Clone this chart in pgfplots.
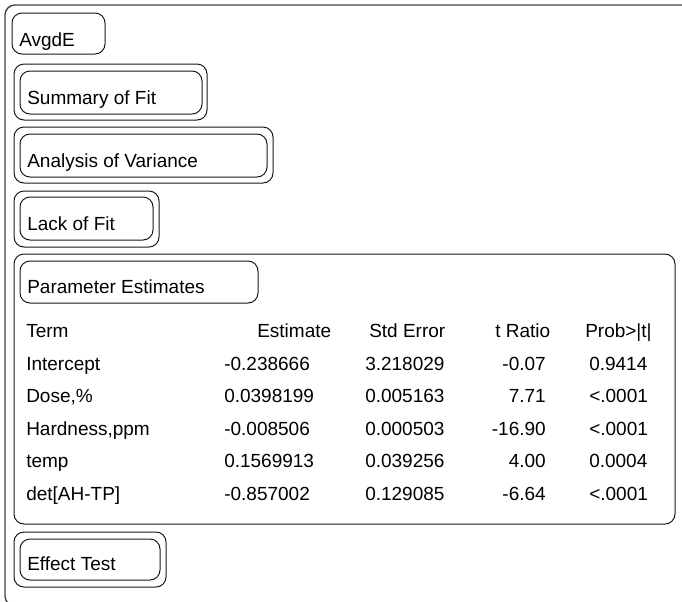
\documentclass[border=0pt]{standalone}
\usepackage{fontspec}
\setmainfont{Liberation Sans}
\usepackage{pgfplots}
\usepackage{pgfplotstable}
\pgfplotsset{compat=1.18}
\newcommand\jf{\fontsize{14.25}{17}\selectfont}

% Parameter Estimates table (baseline y in px from top)
\pgfplotstableread[col sep=semicolon]{
y;term;est;se;tr;pr
370;Intercept;-0.238666;3.218029;-0.07;0.9414
402.5;Dose,\%;0.0398199;0.005163;7.71;<.0001
435;Hardness,ppm;-0.008506;0.000503;-16.90;<.0001
467.5;temp;0.1569913;0.039256;4.00;0.0004
500;det[AH-TP];-0.857002;0.129085;-6.64;<.0001
}\params

% Column headers
\pgfplotstableread[col sep=semicolon]{
x;y;label
26;337;Term
257;337;Estimate
369;337;Std Error
495;337;t Ratio
585;337;Prob>|t|
}\heads

% Report outline titles
\pgfplotstableread[col sep=semicolon]{
x;y;label
19;46.5;AvgdE
27;104;Summary of Fit
27;167;Analysis of Variance
27;230;Lack of Fit
27;293;Parameter Estimates
27;570;Effect Test
}\titles

\begin{document}
\begin{tikzpicture}
\begin{axis}[name=ax,
  width=511.5pt, height=450.75pt, scale only axis,
  xmin=0, xmax=682, ymin=0, ymax=601, y dir=reverse,
  hide axis, clip=false,
  every node near coord/.append style={anchor=base west, inner sep=0pt, font=\jf, text=black},
]
% outer report frame (runs off the right and bottom edges)
\draw[line width=1pt, color=black!75] (axis cs:684,5) -- (axis cs:15,5)
  arc[start angle=90, end angle=180, radius=7.5pt] -- (axis cs:5,596)
  arc[start angle=180, end angle=270, radius=7.5pt] -- (axis cs:684,606);

\begin{scope}[line width=0.75pt, draw=black!90, rounded corners=7.5pt]
\draw (axis cs:12,13) rectangle (axis cs:105,54);
\draw (axis cs:14,64) rectangle (axis cs:207,120);
\draw (axis cs:20,71) rectangle (axis cs:202,114);
\draw (axis cs:14,127) rectangle (axis cs:273,183);
\draw (axis cs:20,134) rectangle (axis cs:267,177);
\draw (axis cs:14,191) rectangle (axis cs:159,247);
\draw (axis cs:20,197) rectangle (axis cs:153,240);
\draw (axis cs:14,254) rectangle (axis cs:675,524);
\draw (axis cs:20,261) rectangle (axis cs:258,303);
\draw (axis cs:14,532) rectangle (axis cs:166,587);
\draw (axis cs:20,539) rectangle (axis cs:160,580);
\end{scope}

\addplot[draw=none, forget plot, nodes near coords, point meta=explicit symbolic]
  table[x=x, y=y, meta=label] {\titles};
\addplot[draw=none, forget plot, nodes near coords, point meta=explicit symbolic]
  table[x=x, y=y, meta=label] {\heads};
\addplot[draw=none, forget plot, nodes near coords, point meta=explicit symbolic]
  table[x expr=26, y=y, meta=term] {\params};
\addplot[draw=none, forget plot, nodes near coords, point meta=explicit symbolic]
  table[x expr=224, y=y, meta=est] {\params};
\addplot[draw=none, forget plot, nodes near coords, point meta=explicit symbolic]
  table[x expr=365, y=y, meta=se] {\params};
\addplot[draw=none, forget plot, nodes near coords, point meta=explicit symbolic,
  every node near coord/.append style={anchor=base east}]
  table[x expr=546, y=y, meta=tr] {\params};
\addplot[draw=none, forget plot, nodes near coords, point meta=explicit symbolic]
  table[x expr=589, y=y, meta=pr] {\params};
\end{axis}
\pgfresetboundingbox
\path[use as bounding box] (ax.south west) rectangle (ax.north east);
\end{tikzpicture}
\end{document}
